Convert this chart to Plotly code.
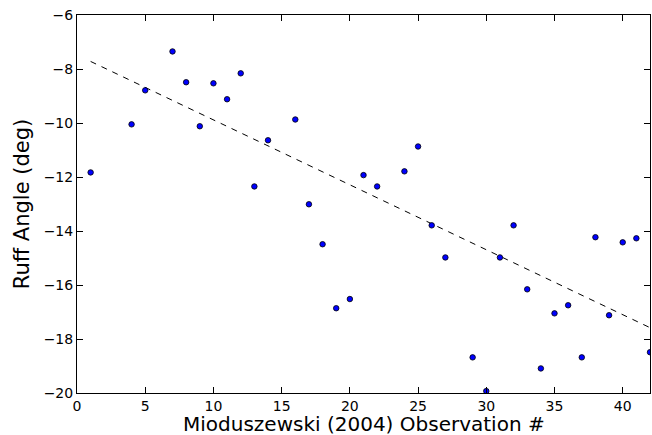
import plotly.graph_objects as go

obs = [1, 4, 5, 7, 8, 9, 10, 11, 12, 13, 14, 16, 17, 18, 19, 20, 21, 22, 24, 25, 26, 27,
       29, 30, 31, 32, 33, 34, 35, 36, 37, 38, 39, 40, 41, 42]
ruff = [-11.83, -10.05, -8.79, -7.35, -8.49, -10.12, -8.53, -9.12, -8.16, -12.35, -10.64,
        -9.87, -13.01, -14.49, -16.86, -16.52, -11.93, -12.35, -11.79, -10.87, -13.79, -14.98,
        -18.68, -19.93, -14.98, -13.79, -16.16, -19.09, -17.05, -16.75, -18.68, -14.23,
        -17.12, -14.42, -14.27, -18.49]

# trend line as drawn in the reference (endpoints)
fit_x = [1, 42]
fit_y = [-7.72, -17.58]

W, H = 652, 435
ML, MR, MT, MB = 77, 2, 15, 42

fig = go.Figure()
fig.add_trace(go.Scatter(x=fit_x, y=fit_y, mode="lines",
                         line=dict(color="black", width=1, dash="6px,6px"),
                         showlegend=False, hoverinfo="skip"))
fig.add_trace(go.Scatter(x=obs, y=ruff, mode="markers",
                         marker=dict(color="#0000ff", size=5.5, line=dict(color="black", width=0.8)),
                         showlegend=False, cliponaxis=True))

axis_common = dict(showline=True, linecolor="black", linewidth=1, mirror="allticks",
                   ticks="inside", ticklen=6, tickcolor="black", tickwidth=1,
                   showgrid=False, zeroline=False,
                   tickfont=dict(family="DejaVu Sans", size=14, color="black"))

fig.update_layout(
    width=W, height=H,
    margin=dict(l=ML, r=MR, t=MT, b=MB),
    paper_bgcolor="white", plot_bgcolor="white",
    xaxis=dict(range=[0, 42], tickvals=[0, 5, 10, 15, 20, 25, 30, 35, 40], **axis_common),
    yaxis=dict(range=[-20, -6], tickvals=list(range(-20, -5, 2)),
               title=dict(text="Ruff Angle (deg)", standoff=8,
                          font=dict(family="DejaVu Sans", size=21, color="black")),
               **axis_common),
    annotations=[dict(text="Mioduszewski (2004) Observation #", xref="paper", yref="paper",
                      x=0.5, y=0, xanchor="center", yanchor="top", yshift=-18,
                      borderpad=0, showarrow=False,
                      font=dict(family="DejaVu Sans", size=20, color="black"))],
)
fig.write_html("out.html")
